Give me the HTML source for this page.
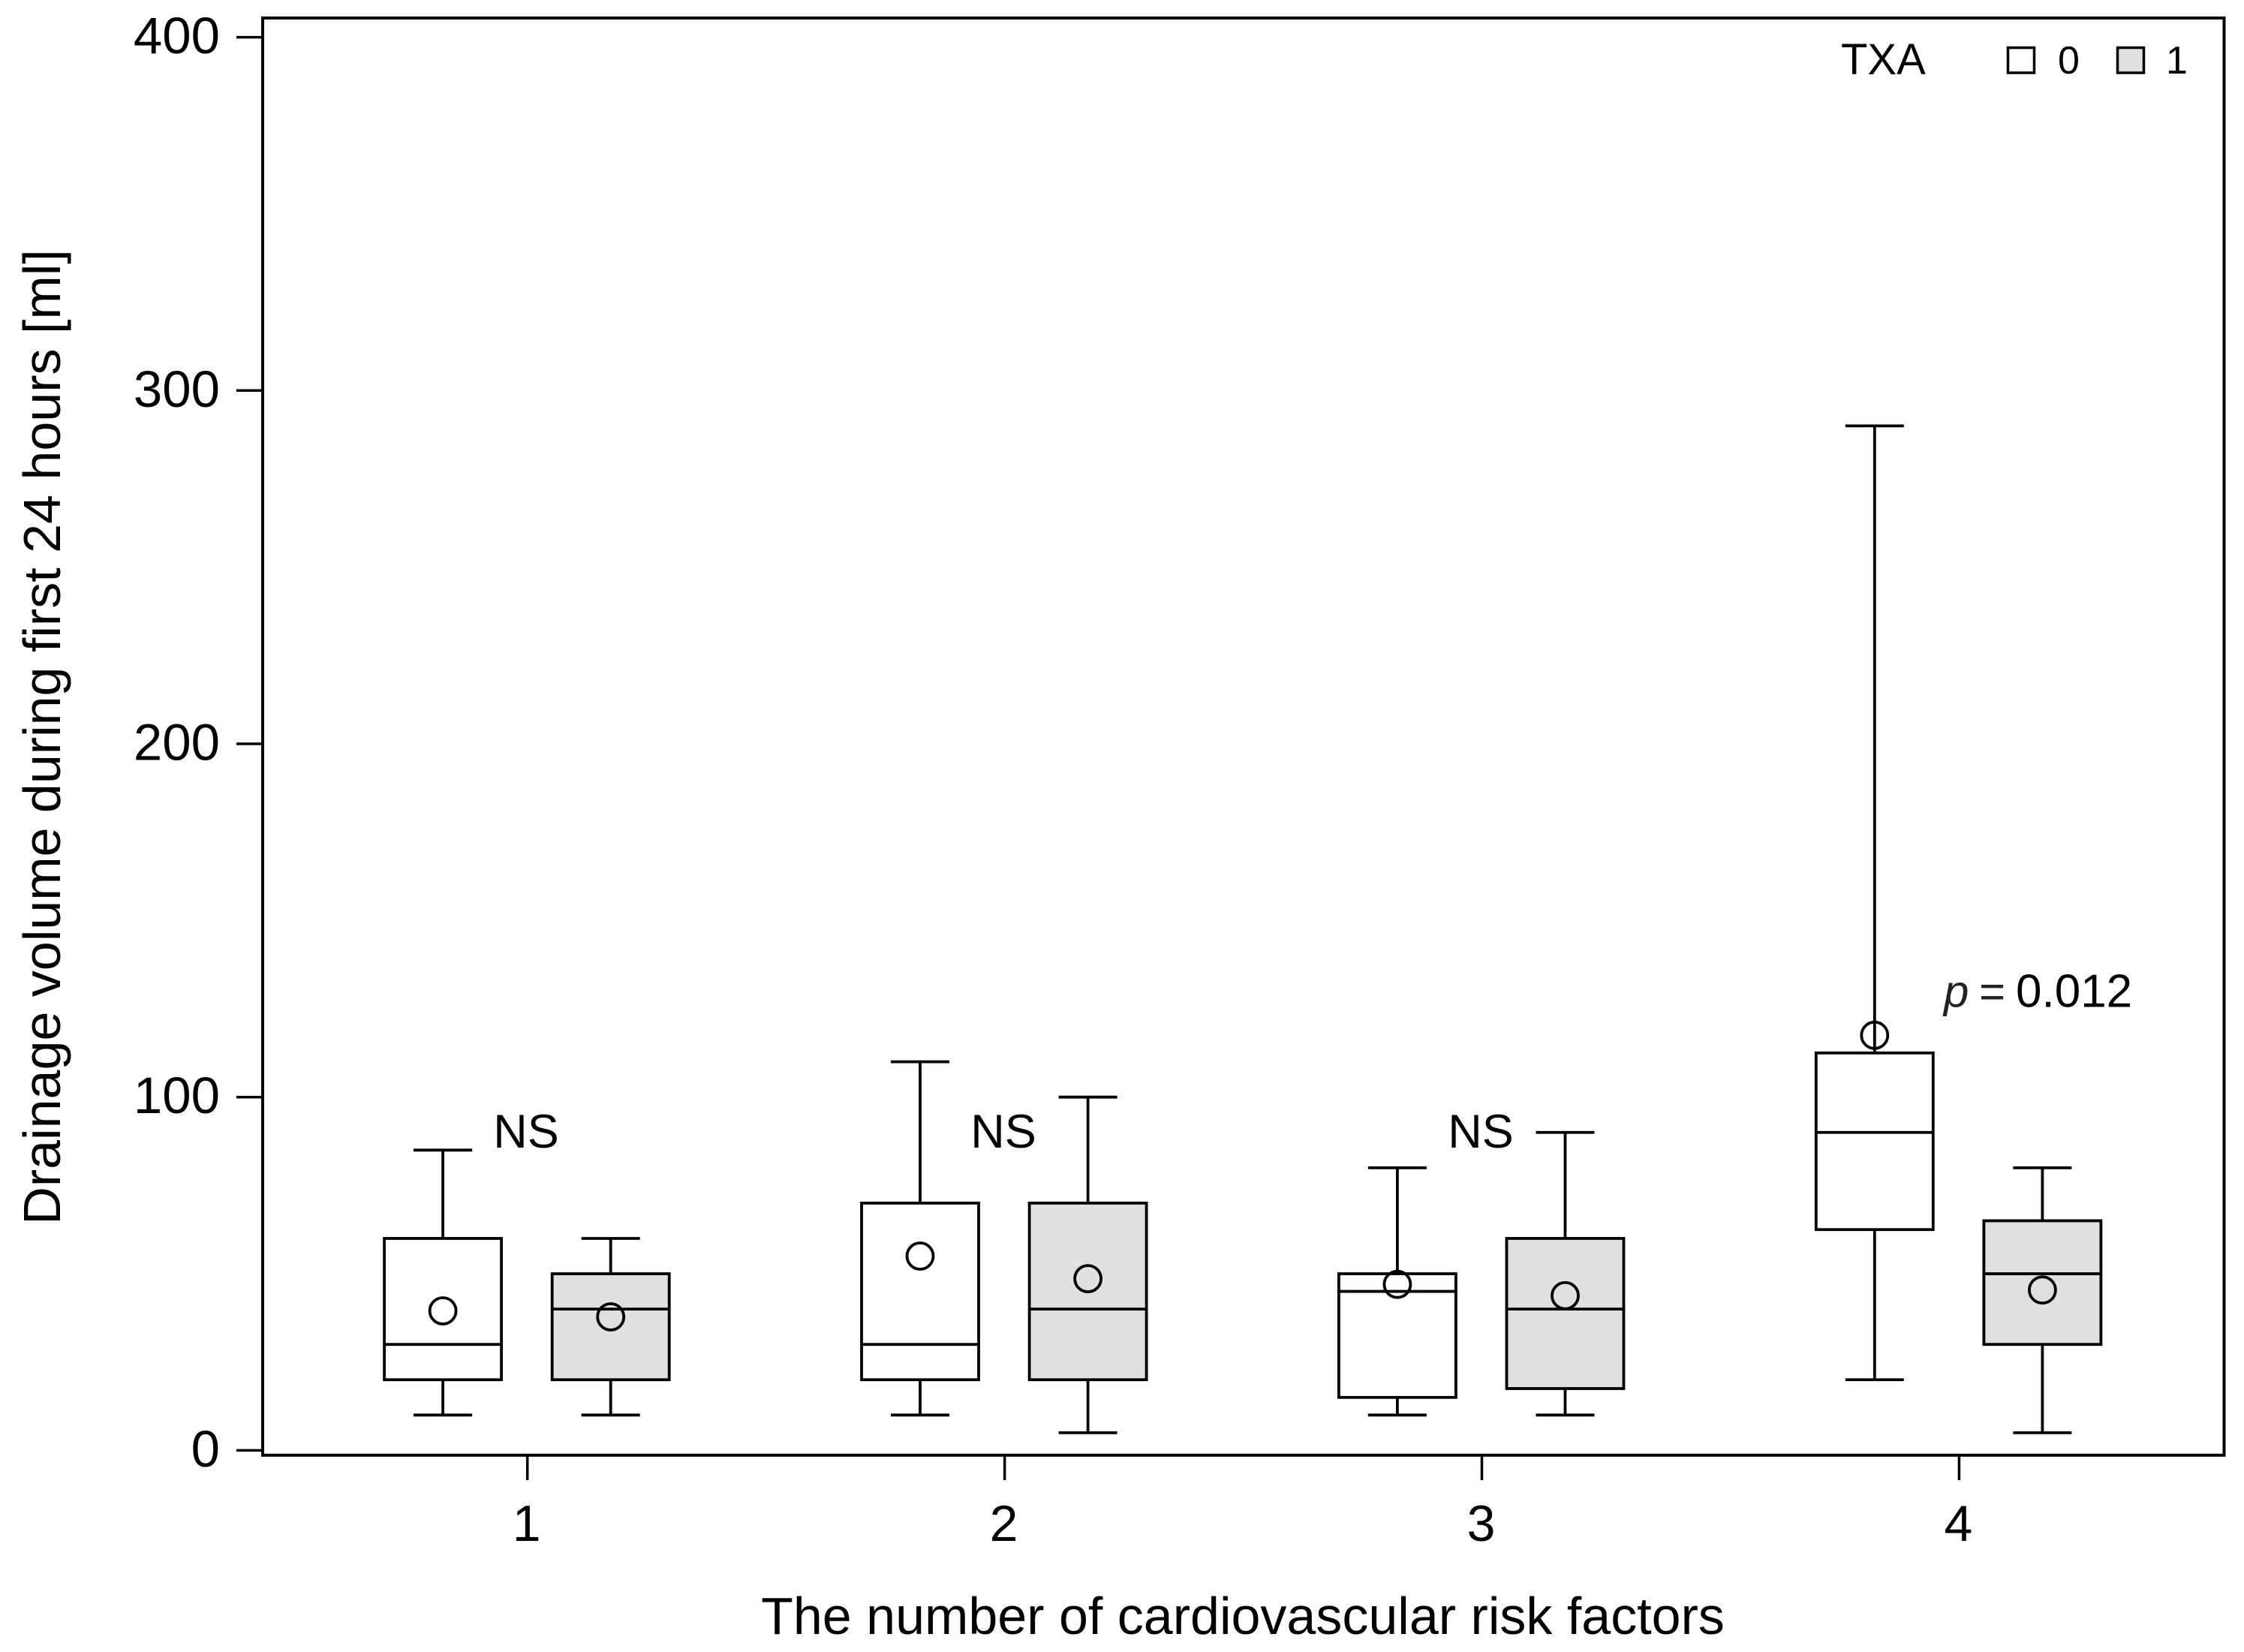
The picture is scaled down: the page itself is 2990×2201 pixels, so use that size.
<!DOCTYPE html>
<html>
<head>
<meta charset="utf-8">
<title>Drainage volume box plot</title>
<style>
html,body{margin:0;padding:0;background:#fff;}
svg{display:block;}
text{font-family:"Liberation Sans",sans-serif;fill:#000;}
</style>
</head>
<body>
<svg id="chart" xmlns="http://www.w3.org/2000/svg" width="2990" height="2201" viewBox="0 0 2990 2201">
  <rect x="0" y="0" width="2990" height="2201" fill="#fff"/>
  <g id="marks"></g>
  <rect x="350" y="24" width="2613.5" height="1914.8" fill="none" stroke="#000" stroke-width="4"/>
  <g id="axes"></g>
  <text transform="translate(80,982) rotate(-90)" text-anchor="middle" font-size="70">Drainage volume during first 24 hours [ml]</text>
  <text x="1656" y="2177" text-anchor="middle" font-size="70">The number of cardiovascular risk factors</text>
  <text x="701" y="1529" text-anchor="middle" font-size="63">NS</text>
  <text x="1337" y="1529" text-anchor="middle" font-size="63">NS</text>
  <text x="1973" y="1529" text-anchor="middle" font-size="63">NS</text>
  <text y="1341.5" font-size="60"><tspan x="2590" font-style="italic" style="fill:#222">p</tspan><tspan x="2637" style="fill:#222">=</tspan><tspan x="2686" font-size="62">0.012</tspan></text>
  <g>
    <text x="2453" y="99" font-size="58">TXA</text>
    <rect x="2675.5" y="63.5" width="35" height="33.5" fill="#fff" stroke="#000" stroke-width="3.5"/>
    <text x="2742" y="98" font-size="52">0</text>
    <rect x="2821.5" y="63.5" width="35" height="33.5" fill="#e0e0e0" stroke="#000" stroke-width="3.5"/>
    <text x="2886" y="98" font-size="52">1</text>
  </g>
</svg>
<script>
const categories = [1, 2, 3, 4];
const yTicks = [0, 100, 200, 300, 400];

const txa0High = [85, 110, 80, 290];
const txa0Q3 = [60, 70, 50, 112.5];
const txa0Median = [30, 30, 45, 90];
const txa0Q1 = [20, 20, 15, 62.5];
const txa0Low = [10, 10, 10, 20];
const txa0Mean = [39.5, 55, 47, 117.5];

const txa1High = [60, 100, 90, 80];
const txa1Q3 = [50, 70, 60, 65];
const txa1Median = [40, 40, 40, 50];
const txa1Q1 = [20, 20, 17.5, 30];
const txa1Low = [10, 5, 10, 5];
const txa1Mean = [37.8, 48.6, 43.8, 45.4];

const NS = 'http://www.w3.org/2000/svg';
const marks = document.getElementById('marks');
const axes = document.getElementById('axes');

function yScale(v) { return 1932.4 - v * 4.707; }
function xScale(c) { return 702.7 + (c - 1) * 635.9; }

function shape(parent, tag, attrs) {
  const node = document.createElementNS(NS, tag);
  for (const k in attrs) node.setAttribute(k, attrs[k]);
  parent.appendChild(node);
  return node;
}

function seg(parent, x1, y1, x2, y2, width) {
  return shape(parent, 'line', { x1: x1, y1: y1, x2: x2, y2: y2, stroke: '#000', 'stroke-width': width });
}

function drawBox(c, i, offset, fill, suffix, high, q3, med, q1, low, mean) {
  const cx = xScale(c) + offset - 0.8;
  const halfBox = 78;
  const halfCap = 39;
  const sw = 3.8;
  const g = shape(marks, 'g', {});
  
  

  const upper = seg(g, cx, yScale(high[i]), cx, yScale(q3[i]), sw);
  
  

  const upperCap = seg(g, cx - halfCap, yScale(high[i]), cx + halfCap, yScale(high[i]), sw);
  
  

  const lower = seg(g, cx, yScale(q1[i]), cx, yScale(low[i]), sw);
  
  

  const lowerCap = seg(g, cx - halfCap, yScale(low[i]), cx + halfCap, yScale(low[i]), sw);
  
  

  const box = shape(g, 'rect', {
    x: cx - halfBox,
    y: yScale(q3[i]),
    width: halfBox * 2,
    height: yScale(q1[i]) - yScale(q3[i]),
    fill: fill,
    stroke: '#000',
    'stroke-width': sw
  });
  
  

  const medLine = seg(g, cx - halfBox, yScale(med[i]), cx + halfBox, yScale(med[i]), sw);
  
  

  const meanDot = shape(g, 'circle', { cx: cx, cy: yScale(mean[i]), r: 17.5, fill: 'none', stroke: '#000', 'stroke-width': 3.8 });
  
  
}

categories.forEach(function (c, i) {
  drawBox(c, i, -111.8, '#fff', '0', txa0High, txa0Q3, txa0Median, txa0Q1, txa0Low, txa0Mean);
  drawBox(c, i, 111.8, '#e0e0e0', '1', txa1High, txa1Q3, txa1Median, txa1Q1, txa1Low, txa1Mean);

  const tick = seg(axes, xScale(c), 1938.8, xScale(c), 1972, 3.5);
  
  

  const label = shape(axes, 'text', { x: xScale(c) - 1, y: 2053, 'text-anchor': 'middle', 'font-size': 68 });
  label.textContent = String(c);
  
  
});

yTicks.forEach(function (v) {
  const tick = seg(axes, 315, yScale(v), 350, yScale(v), 3.5);
  
  

  const label = shape(axes, 'text', { x: 293, y: yScale(v) + 21.5, 'text-anchor': 'end', 'font-size': 69 });
  label.textContent = String(v);
  
  
});
</script>
</body>
</html>
